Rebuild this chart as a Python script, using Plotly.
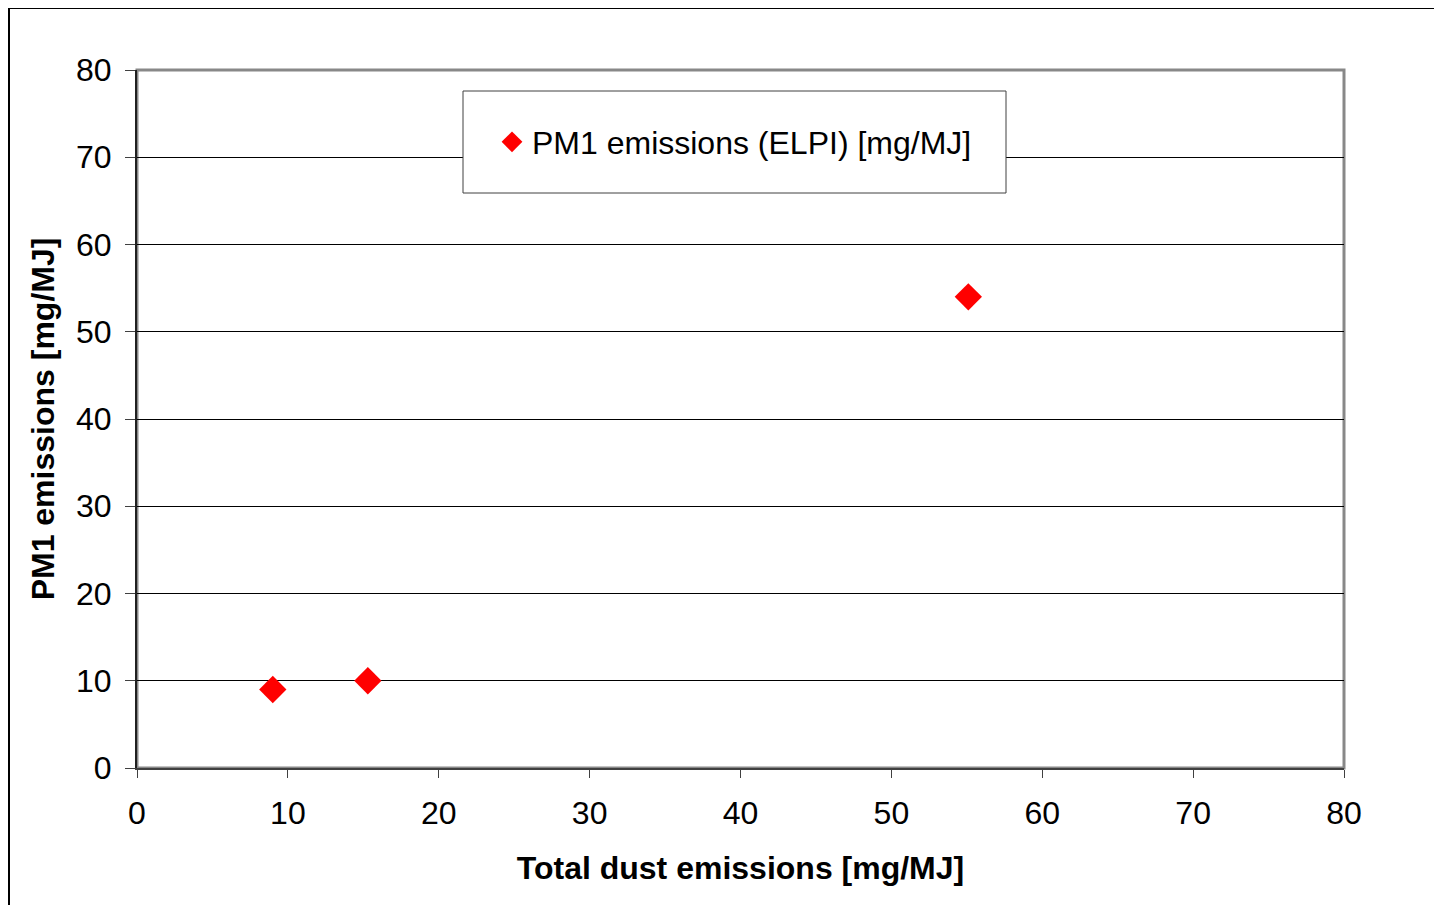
import plotly.graph_objects as go

total_dust = [9.0, 15.3, 55.1]
pm1 = [9.0, 10.0, 54.0]
series_name = "PM1 emissions (ELPI) [mg/MJ]"
x_title = "Total dust emissions [mg/MJ]"
y_title = "PM1 emissions [mg/MJ]"
tick_vals = [0, 10, 20, 30, 40, 50, 60, 70, 80]

OFF = 8  # page body offset
W, H = 1442, 905
PL, PT, PW, PH = 137, 70, 1207, 698  # plot area in screen pixels
L, T = PL - OFF, PT - OFF
R = W - L - PW
B = H - T - PH

def px(x):
    return (x - PL) / PW

def py(y):
    return (PT + PH - y) / PH

FONT = "Arial, Liberation Sans, sans-serif"
FS = 32

fig = go.Figure()
fig.add_trace(go.Scatter(
    x=total_dust, y=pm1, mode="markers", name=series_name,
    marker=dict(symbol="diamond", size=21, color="#ff0000", line=dict(width=0)),
))

fig.update_layout(
    width=W, height=H,
    margin=dict(l=L, r=R, t=T, b=B),
    paper_bgcolor="white", plot_bgcolor="white",
    font=dict(family=FONT, size=FS, color="black"),
    showlegend=True,
    legend=dict(
        x=px(492), y=py(142), xanchor="left", yanchor="middle",
        bgcolor="rgba(0,0,0,0)", borderwidth=0,
        font=dict(size=FS, family=FONT),
    ),
    xaxis=dict(
        range=[0, 80], tickvals=tick_vals, showgrid=False, zeroline=False,
        showline=True, linecolor="#404040", linewidth=2,
        ticks="outside", ticklen=8, tickwidth=1, tickcolor="#404040",
        ticklabelstandoff=8,
        tickfont=dict(size=FS),
        title=dict(text="<b>" + x_title + "</b>", font=dict(size=FS), standoff=26),
    ),
    yaxis=dict(
        range=[0, 80], tickvals=tick_vals, showgrid=True, gridcolor="black", gridwidth=1,
        zeroline=False,
        showline=True, linecolor="#202020", linewidth=2,
        ticks="outside", ticklen=10, tickwidth=1, tickcolor="#404040",
        ticklabelstandoff=7,
        tickfont=dict(size=FS),
        title=dict(text="<b>" + y_title + "</b>", font=dict(size=FS), standoff=12),
    ),
    shapes=[
        # outer chart border
        dict(type="rect", xref="paper", yref="paper",
             x0=px(9), x1=px(1470), y0=py(8), y1=py(940),
             line=dict(color="black", width=2), fillcolor="rgba(0,0,0,0)", layer="below"),
        # plot area border (gray top/right)
        dict(type="rect", xref="paper", yref="paper",
             x0=0, x1=1, y0=0, y1=1,
             line=dict(color="#888888", width=3), fillcolor="rgba(0,0,0,0)", layer="below"),
        # legend box
        dict(type="rect", xref="paper", yref="paper",
             x0=px(463), x1=px(1006), y0=py(193), y1=py(91),
             line=dict(color="#404040", width=1), fillcolor="white", layer="above"),
    ],
)

fig.write_html("out.html")
